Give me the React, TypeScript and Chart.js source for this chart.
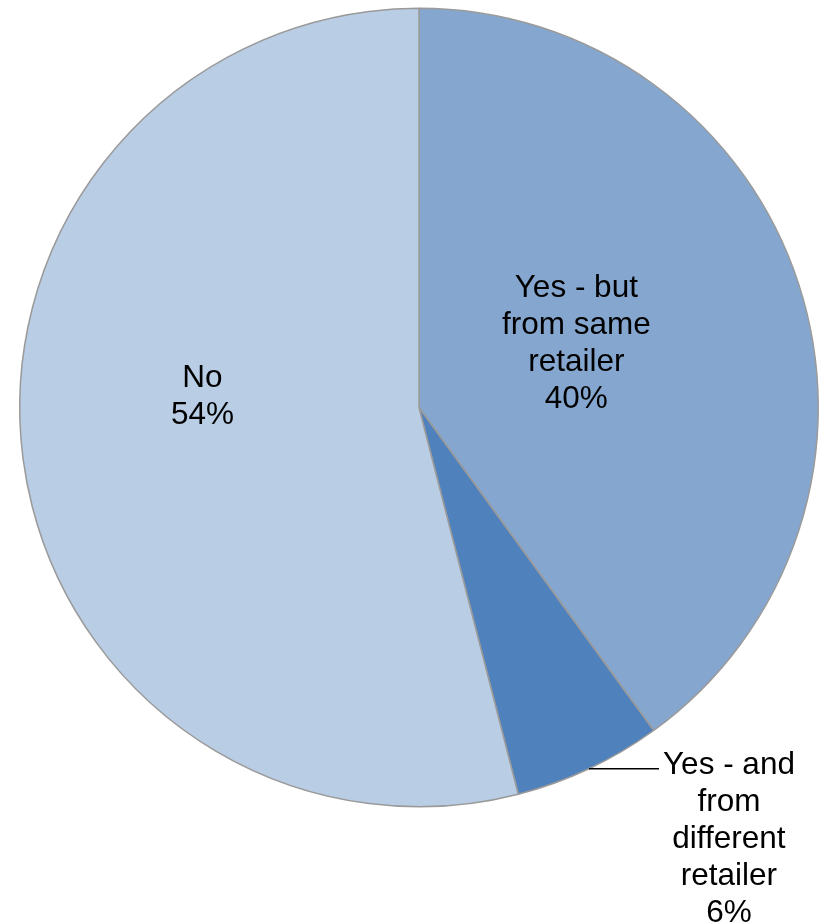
import React, { useEffect, useRef } from "react";
import { Chart, registerables } from "chart.js";

Chart.register(...registerables);

const categories = [
  ["Yes - but", "from same", "retailer"],
  ["Yes - and", "from", "different", "retailer"],
  ["No"],
];
const values = [40, 6, 54];
const percentLabels = ["40%", "6%", "54%"];
const colors = ["#85A7CF", "#4F81BD", "#B9CDE5"];

// label placement: inside (fraction of radius + angle tweak in degrees) or outside with leader
const placements = [
  { mode: "inside", frac: 0.425, rot: -4 },
  { mode: "outside", leader: 70 },
  { mode: "inside", frac: 0.543, rot: 10 },
];

const labelPlugin = {
  id: "pieLabels",
  afterDatasetsDraw(chart: any) {
    const ctx = chart.ctx;
    const meta = chart.getDatasetMeta(0);
    const lineH = 37;
    ctx.save();
    ctx.font = '31.5px "Liberation Sans", Arial, sans-serif';
    ctx.fillStyle = "#000";
    ctx.textAlign = "center";
    ctx.textBaseline = "middle";
    meta.data.forEach((arc: any, i: number) => {
      const p: any = placements[i];
      const { x, y, startAngle, endAngle, outerRadius } = arc.getProps(
        ["x", "y", "startAngle", "endAngle", "outerRadius"],
        true
      );
      const mid = (startAngle + endAngle) / 2;
      const lines = [...categories[i], percentLabels[i]];
      if (p.mode === "inside") {
        const a = mid + (p.rot * Math.PI) / 180;
        const cx = x + Math.cos(a) * outerRadius * p.frac;
        const cy = y + Math.sin(a) * outerRadius * p.frac;
        lines.forEach((t, k) => {
          ctx.fillText(t, cx, cy + (k - (lines.length - 1) / 2) * lineH);
        });
      } else {
        const sx = x + Math.cos(mid) * outerRadius;
        const sy = y + Math.sin(mid) * outerRadius;
        const ex = sx + p.leader;
        ctx.beginPath();
        ctx.strokeStyle = "#000";
        ctx.lineWidth = 1.5;
        ctx.moveTo(sx, sy);
        ctx.lineTo(ex, sy);
        ctx.stroke();
        const maxW = Math.max(...lines.map((t) => ctx.measureText(t).width));
        const tx = ex + 4 + maxW / 2;
        lines.forEach((t, k) => {
          ctx.fillText(t, tx, sy - 3 + k * lineH);
        });
      }
    });
    ctx.restore();
  },
};

export default function App() {
  const ref = useRef<HTMLCanvasElement>(null);
  useEffect(() => {
    const chart = new Chart(ref.current as HTMLCanvasElement, {
      type: "pie",
      data: {
        labels: categories.map((c) => c.join(" ")),
        datasets: [
          {
            data: values,
            backgroundColor: colors,
            borderColor: "#9a9a9a",
            borderWidth: 1.5,
          },
        ],
      },
      options: {
        responsive: false,
        animation: false,
        layout: { padding: { left: 19, right: 4, top: 7, bottom: 116 } },
        plugins: { legend: { display: false }, tooltip: { enabled: false } },
      },
      plugins: [labelPlugin],
    } as any);
    return () => chart.destroy();
  }, []);
  return (
    <div style={{ position: "absolute", left: 0, top: 0, width: 823, height: 924, background: "#fff" }}>
      <canvas ref={ref} width={823} height={924} />
    </div>
  );
}
